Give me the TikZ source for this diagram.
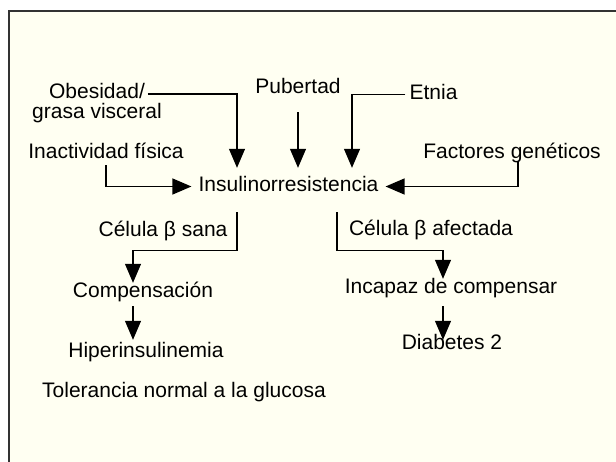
\documentclass[tikz,border=0pt]{standalone}
\usepackage{fontspec}
\setmainfont{Liberation Sans}
\usetikzlibrary{arrows.meta}
\definecolor{fondo}{RGB}{255,255,242}
\tikzset{
  letra/.style={font=\fontsize{21}{20}\selectfont, inner sep=0pt},
  texto/.style={letra, text height=15pt, text depth=4pt, anchor=base},
  linea/.style={line width=1.2pt},
  flecha/.style={linea, -{Triangle[width=16pt,length=19pt]}}
}

\begin{document}
\begin{tikzpicture}[x=1pt,y=-1pt]
	\useasboundingbox (0,0) rectangle (616,462);
	\fill[fondo] (9,11) rectangle (616,462);
	\draw[line width=2pt, black!80] (9,462) -- (9,11) -- (616,11);

	% Factores
	\node[letra, align=center] (obes) at (97,103) {Obesidad/\\grasa visceral};
	\node[texto] (pub) at (298,94) {Pubertad};
	\node[texto] (etnia) at (433.5,100) {Etnia};
	\node[texto] (inact) at (106,159) {Inactividad física};
	\node[texto] (fact) at (512,159) {Factores genéticos};
	\node[texto, inner xsep=7pt, inner ysep=9pt] (insul) at (288.5,192) {Insulinorresistencia};

	\draw[flecha] ([xshift=-14pt,yshift=9pt]obes.east) -| ([xshift=-51.5pt]insul.north);
	\draw[flecha] ([yshift=-14pt]pub.south) -- (pub.south |- insul.north);
	\draw[flecha] ([xshift=-4pt]etnia.west) -| ([xshift=63.5pt]insul.north);
	\draw[flecha] ([yshift=-2pt]inact.south) |- (insul.west);
	\draw[flecha] ([xshift=6pt,yshift=2pt]fact.south) |- (insul.east);

	% Celula sana
	\node[texto] (sana) at (163,237) {Célula β sana};
	\node[texto] (comp) at (143,298) {Compensación};
	\node[texto] (hiper) at (146,358) {Hiperinsulinemia};
	\node[texto] (toler) at (184,397) {Tolerancia normal a la glucosa};

	\draw[flecha] ([xshift=-51.5pt,yshift=-7pt]insul.south) -- ++(0,38) -| ([xshift=-10pt]comp.north);
	\draw[flecha] ([xshift=-10pt,yshift=-4pt]comp.south) -- ([xshift=-10pt,yshift=3pt]comp.south |- hiper.north);

	% Celula afectada
	\node[texto] (afect) at (431,236) {Célula β afectada};
	\node[texto] (incap) at (451,294) {Incapaz de compensar};
	\node[texto] (diab) at (452,349) {Diabetes 2};

	\draw[flecha] ([xshift=48.5pt,yshift=-7pt]insul.south) -- ++(0,38) -| ([xshift=-8pt]incap.north);
	\draw[flecha] ([xshift=-8pt,yshift=-8pt]incap.south) -- ([xshift=-8pt,yshift=-6pt]incap.south |- diab.north);
\end{tikzpicture}
\end{document}
